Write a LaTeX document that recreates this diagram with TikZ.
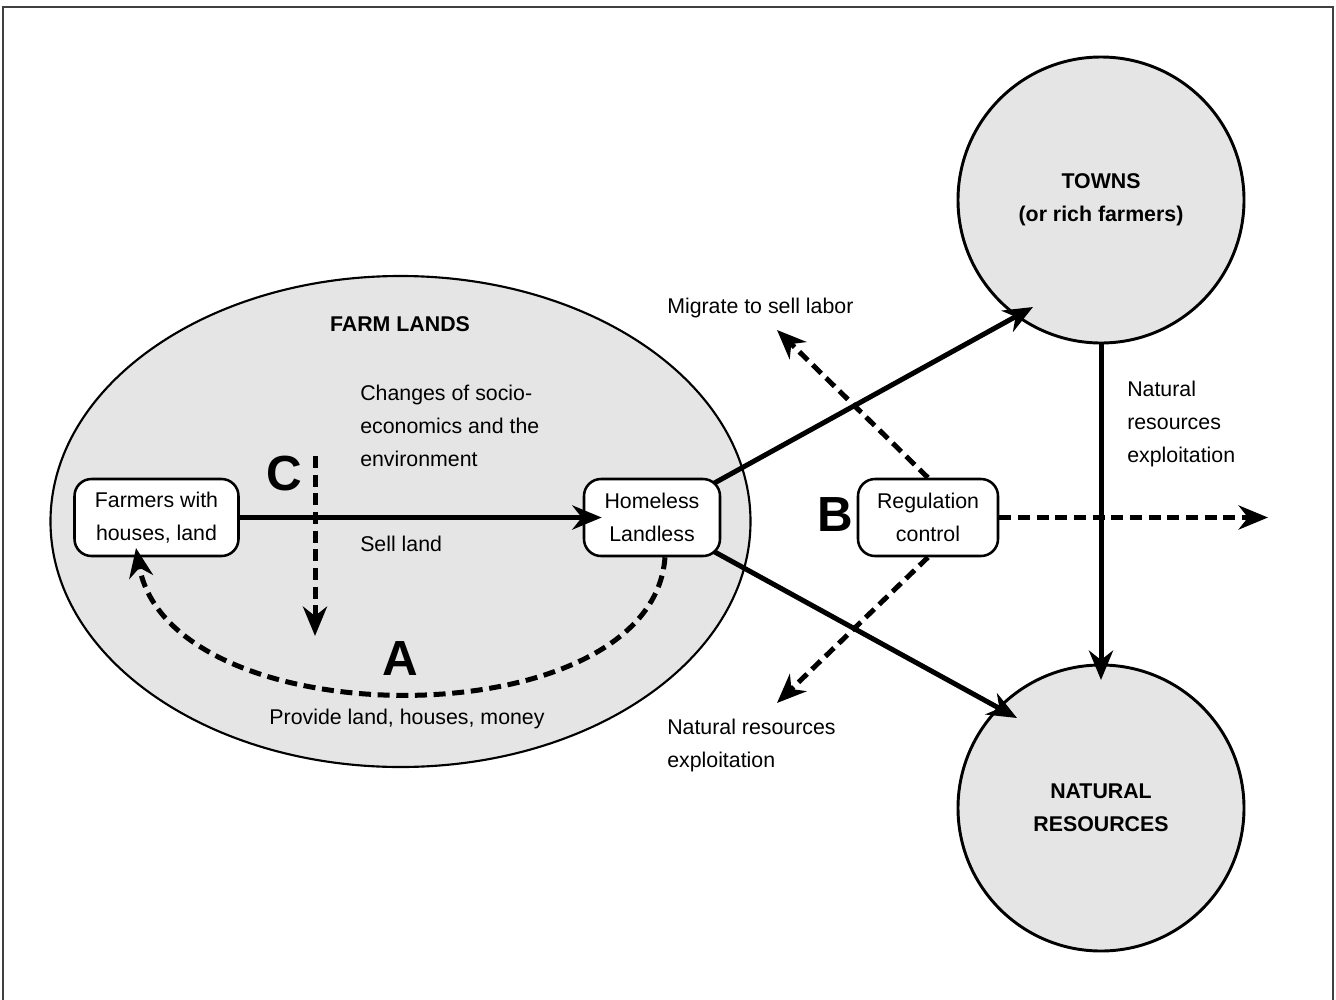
\documentclass[tikz,border=0pt]{standalone}
\usepackage{fontspec}
\setmainfont{Liberation Sans}
\usetikzlibrary{arrows.meta,calc,shapes.geometric}
\definecolor{lightgr}{gray}{0.9}
\begin{document}
\begin{tikzpicture}[x=0.75pt,y=-0.75pt,
  txt/.style={font=\fontsize{16}{24.5}\selectfont, inner sep=0pt},
  btxt/.style={font=\fontsize{16}{24.5}\selectfont\bfseries, inner sep=0pt, align=center},
  bigletter/.style={font=\fontsize{37}{40}\selectfont\bfseries, inner sep=0pt},
  box/.style={draw, line width=1.9pt, fill=white, rounded corners=12.75pt, align=center,
    font=\fontsize{16}{24.5}\selectfont, inner sep=0pt, minimum height=57.75pt},
  region/.style={draw, fill=lightgr, line width=2.2pt, circle, minimum size=214.5pt,
    inner sep=0pt, align=center, font=\fontsize{16}{24.5}\selectfont\bfseries},
  solidarrow/.style={line width=3.75pt, -{Stealth[length=22pt,width=18pt,inset=7pt]}},
  dasharrow/.style={solidarrow, dash pattern=on 9pt off 5pt},
]
\useasboundingbox (0,0) rectangle (1336,1000);
% frame
\draw[line width=1pt, draw=gray!50!black] (3,1000) -- (3,7) -- (1333,7) -- (1333,1000);

% farm lands region
\node[ellipse, draw, fill=lightgr, line width=1.6pt, minimum width=525pt, minimum height=368.25pt, inner sep=0pt] (farm) at (400.5,521.5) {};

% towns and natural resources
\node[region] (towns) at (1101,200) {TOWNS\\(or rich farmers)};
\node[region] (natural) at (1101,808) {NATURAL\\RESOURCES};

% helper coordinates
\coordinate (homelessC) at (652,517.5);
\coordinate (tT) at (1033,307);
\coordinate (tN) at (1017,718);
\coordinate (tV) at (1101,680);
\coordinate (tMig) at (777,330);
\coordinate (tNat) at (777,703);
\coordinate (tR) at (1268,517.5);
\coordinate (cTop) at (315,456);
\coordinate (cEnd) at (315,636);
\coordinate (aEnd) at (136,548);

% diagonal arrows from homeless (start hidden under the box)
\draw[solidarrow] (homelessC) -- (tT);
\draw[solidarrow] (homelessC) -- (tN);

% boxes
\node[box, minimum width=123pt] (farmers) at (156.5,517.5) {Farmers with\\houses, land};
\node[box, minimum width=102pt] (homeless) at (homelessC) {Homeless\\Landless};
\node[box, minimum width=105pt] (reg) at (928,517.5) {Regulation\\control};

% sell land
\draw[solidarrow] (farmers.east) -- ($(homeless.west)+(19,0)$);

% towns -> natural
\draw[solidarrow] (towns) -- (tV);

% regulation dashed arrows
\draw[dasharrow] (reg.north) -- (tMig);
\draw[dasharrow] (reg.south) -- (tNat);
\draw[dasharrow] (reg.east) -- (tR);

% C arrow
\draw[dasharrow] (cTop) -- (cEnd);

% A arc
\draw[dasharrow] ($(homeless.south)+(13,0)$) .. controls (652,740) and (170,740) .. (aEnd);

% labels
\node[btxt] (farmlbl) at (400,324) {FARM LANDS};
\node[txt, anchor=west, align=left] (changes) at (360,426) {Changes of socio-\\economics and the\\environment};
\node[txt, anchor=west] (sell) at (360,544) {Sell land};
\node[txt] (provide) at (407,719) {Provide land, houses, money};
\node[txt, anchor=west] (migrate) at (667,308) {Migrate to sell labor};
\node[txt, anchor=west, align=left] (nre) at (667,745.5) {Natural resources\\exploitation};
\node[txt, anchor=west, align=left] (nre2) at (1127,424) {Natural\\resources\\exploitation};

\node[bigletter] (lC) at (284.5,474) {C};
\node[bigletter] (lA) at (400,659) {A};
\node[bigletter] (lB) at (835,515) {B};
\end{tikzpicture}
\end{document}
